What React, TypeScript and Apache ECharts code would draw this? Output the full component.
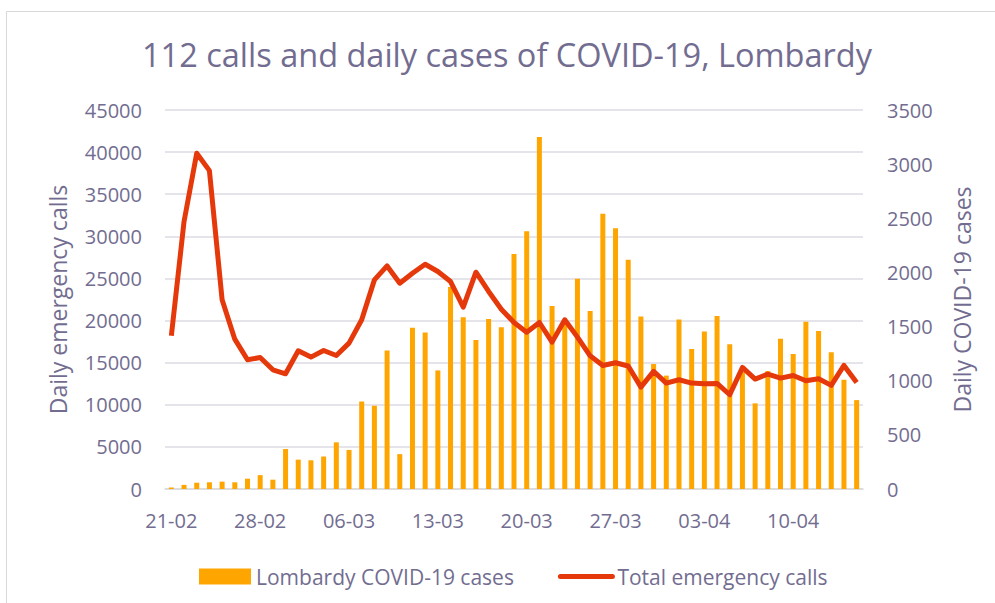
import React, { useEffect, useRef } from "react";
import * as echarts from "echarts";

const dates = [
  "21-02", "22-02", "23-02", "24-02", "25-02", "26-02", "27-02", "28-02", "29-02",
  "01-03", "02-03", "03-03", "04-03", "05-03", "06-03", "07-03", "08-03", "09-03", "10-03",
  "11-03", "12-03", "13-03", "14-03", "15-03", "16-03", "17-03", "18-03", "19-03", "20-03",
  "21-03", "22-03", "23-03", "24-03", "25-03", "26-03", "27-03", "28-03", "29-03", "30-03", "31-03",
  "01-04", "02-04", "03-04", "04-04", "05-04", "06-04", "07-04", "08-04", "09-04", "10-04",
  "11-04", "12-04", "13-04", "14-04", "15-04",
];

const lombardyCases = [
  14, 38, 58, 62, 68, 62, 95, 128, 86,
  369, 271, 265, 300, 431, 361, 808, 769, 1280, 322,
  1489, 1445, 1095, 1865, 1587, 1377, 1571, 1493, 2171, 2380,
  3251, 1691, 1555, 1942, 1643, 2543, 2409, 2117, 1592, 1154, 1047,
  1565, 1292, 1455, 1598, 1337, 1080, 791, 1089, 1388, 1246,
  1544, 1460, 1262, 1009, 821,
];

const emergencyCalls = [
  18190, 31750, 39860, 37800, 22460, 17790, 15340, 15620, 14155,
  13680, 16410, 15660, 16450, 15855, 17320, 20090, 24830, 26490, 24440,
  25620, 26690, 25820, 24630, 21590, 25740, 23450, 21350, 19770, 18620,
  19770, 17440, 20090, 18030, 15815, 14670, 14985, 14600, 12100, 13960, 12575,
  12970, 12575, 12495, 12535, 11190, 14430, 13050, 13640, 13170, 13480,
  12850, 13090, 12300, 14670, 12650,
];

const TEXT = "#726d90";
const FONT = "Open Sans";
const plain = (v: number) => String(v);

export default function App() {
  const ref = useRef<HTMLDivElement>(null);
  useEffect(() => {
    if (!ref.current) return;
    const chart = echarts.init(ref.current, undefined, { renderer: "svg" });
    chart.setOption({
      animation: false,
      backgroundColor: "#ffffff",
      textStyle: { fontFamily: FONT },
      title: {
        text: "112 calls and daily cases of COVID-19, Lombardy",
        left: 502,
        top: 33,
        textAlign: "center",
        textStyle: { fontSize: 32.5, fontWeight: "normal", color: TEXT, fontFamily: FONT },
      },
      graphic: [
        {
          type: "rect",
          shape: { x: 6.5, y: 11.5, width: 1000, height: 620 },
          style: { fill: "none", stroke: "#d9d9d9", lineWidth: 1 },
          silent: true,
        },
      ],
      legend: {
        left: 199,
        top: 566,
        padding: 0,
        itemWidth: 52,
        itemHeight: 16,
        itemGap: 44,
        textStyle: { fontSize: 21, color: TEXT, fontFamily: FONT },
        data: [
          { name: "Lombardy COVID-19 cases", icon: "rect" },
          {
            name: "Total emergency calls",
            itemStyle: { opacity: 0 },
            lineStyle: { width: 5, cap: "round" },
          },
        ],
      },
      grid: { left: 165, right: 132, top: 110, bottom: 114 },
      xAxis: {
        type: "category",
        data: dates,
        boundaryGap: true,
        axisLine: { lineStyle: { color: "#d9d9d9", width: 1.5 } },
        axisTick: { show: false },
        axisLabel: { interval: 6, color: TEXT, fontSize: 20, margin: 21, fontFamily: FONT },
      },
      yAxis: [
        {
          type: "value",
          min: 0,
          max: 45000,
          interval: 5000,
          name: "Daily emergency calls",
          nameLocation: "middle",
          nameRotate: 90,
          nameGap: 96,
          nameTextStyle: { fontSize: 23, color: TEXT, fontFamily: FONT },
          axisLine: { show: false },
          axisTick: { show: false },
          axisLabel: { color: TEXT, fontSize: 20, margin: 23, fontFamily: FONT, formatter: plain },
          splitLine: { lineStyle: { color: "#dcdbe3", width: 1.5 } },
        },
        {
          type: "value",
          min: 0,
          max: 3500,
          interval: 500,
          name: "Daily COVID-19 cases",
          nameLocation: "middle",
          nameRotate: 90,
          nameGap: 87,
          nameTextStyle: { fontSize: 23, color: TEXT, fontFamily: FONT },
          axisLine: { show: false },
          axisTick: { show: false },
          axisLabel: { color: TEXT, fontSize: 20, margin: 24, fontFamily: FONT, formatter: plain },
          splitLine: { show: false },
        },
      ],
      series: [
        {
          name: "Lombardy COVID-19 cases",
          type: "bar",
          yAxisIndex: 1,
          data: lombardyCases,
          barWidth: 5,
          itemStyle: { color: "#ffa500" },
        },
        {
          name: "Total emergency calls",
          type: "line",
          yAxisIndex: 0,
          data: emergencyCalls,
          symbol: "none",
          lineStyle: { color: "#e5390b", width: 5, join: "round" },
          itemStyle: { color: "#e5390b" },
        },
      ],
    });
    return () => chart.dispose();
  }, []);
  return (
    <div
      ref={ref}
      style={{ position: "fixed", left: 0, top: 0, width: 995, height: 603 }}
    />
  );
}
